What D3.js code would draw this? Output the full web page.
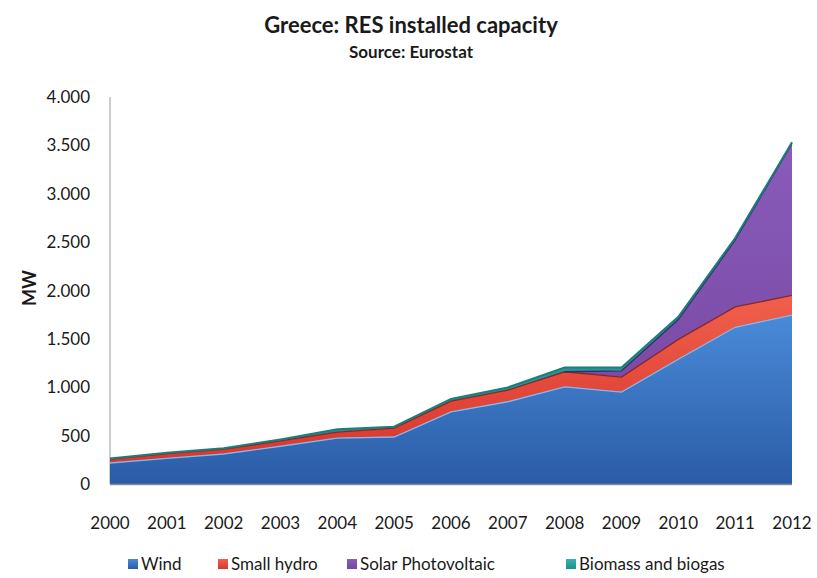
<!DOCTYPE html>
<html>
<head>
<meta charset="utf-8">
<script src="https://cdn.jsdelivr.net/npm/d3@7"></script>
<style>
  body { margin: 0; background: #fff; }
  text { font-family: Lato, "Open Sans", sans-serif; fill: #1a1a1a; }
</style>
</head>
<body>
<svg id="chart" width="817" height="578"></svg>
<script>
// values (MW)
var years = [2000, 2001, 2002, 2003, 2004, 2005, 2006, 2007, 2008, 2009, 2010, 2011, 2012];
var wind    = [217, 265, 310, 390, 475, 486, 745, 850, 1003, 950, 1290, 1620, 1745];
var hydro   = [41, 50, 50, 55, 62, 92, 112, 120, 157, 155, 205, 210, 205];
var solar   = [0, 0, 0, 0, 0, 0, 0, 0, 0, 65, 205, 690, 1570];
var biomass = [5, 8, 9, 16, 28, 14, 22, 28, 45, 35, 28, 22, 12];
var seriesNames = ["Wind", "Small hydro", "Solar Photovoltaic", "Biomass and biogas"];
var yTicks = [0, 500, 1000, 1500, 2000, 2500, 3000, 3500, 4000];

var svg = d3.select("#chart");
var x = d3.scaleLinear().domain([2000, 2012]).range([110, 792]);
var y = d3.scaleLinear().domain([0, 4000]).range([484, 97]);

var rows = years.map(function (yr, i) {
  return { year: yr, "Wind": wind[i], "Small hydro": hydro[i],
           "Solar Photovoltaic": solar[i], "Biomass and biogas": biomass[i] };
});
var stacked = d3.stack().keys(seriesNames)(rows);

// fills: [top colour, bottom colour, edge colour]
var looks = [
  ["#4a8ad8", "#2a5ca6", "#7fb8f2"],
  ["#f0604c", "#d8362c", "#8e2323"],
  ["#8a5cba", "#7446a0", "#3f2a66"],
  ["#35b3b0", "#1e8f8d", "#1a7f7c"]
];

var defs = svg.append("defs");
looks.forEach(function (c, i) {
  var g = defs.append("linearGradient").attr("id", "g" + i)
    .attr("x1", 0).attr("x2", 0).attr("y1", 0).attr("y2", 1);
  g.append("stop").attr("offset", "0%").attr("stop-color", c[0]);
  g.append("stop").attr("offset", "100%").attr("stop-color", c[1]);
});

// axis line
svg.append("line").attr("x1", 110).attr("x2", 110).attr("y1", y(4000)).attr("y2", y(0))
  .attr("stroke", "#9a9a9a").attr("stroke-width", 1);

var area = d3.area()
  .x(function (d) { return x(d.data.year); })
  .y0(function (d) { return y(d[0]); })
  .y1(function (d) { return y(d[1]); });
var topLine = d3.line()
  .x(function (d) { return x(d.data.year); })
  .y(function (d) { return y(d[1]); });

stacked.forEach(function (layer, i) {
  svg.append("path").datum(layer).attr("d", area).attr("fill", "url(#g" + i + ")");
});
stacked.forEach(function (layer, i) {
  // solar edge only where it starts to show
  svg.append("path").datum(i == 2 ? layer.filter(function (d, k) { return k >= 8; }) : layer)
    .attr("d", topLine).attr("fill", "none")
    .attr("stroke", looks[i][2]).attr("stroke-width", i == 3 ? 2 : 1.3);
});

svg.append("line").attr("x1", 110).attr("x2", 792).attr("y1", y(0) + 0.5).attr("y2", y(0) + 0.5)
  .attr("stroke", "#8a8a8a").attr("stroke-width", 1.5);

// y tick labels
svg.selectAll(".yt").data(yTicks).enter().append("text")
  .attr("x", 90).attr("y", function (d) { return y(d) + 6; })
  .attr("text-anchor", "end").attr("font-size", 17)
  .text(function (d) { return d3.format(",")(d).replace(",", "."); });

// x tick labels
svg.selectAll(".xt").data(years).enter().append("text")
  .attr("x", function (d) { return x(d); }).attr("y", 529)
  .attr("text-anchor", "middle").attr("font-size", 17)
  .text(function (d) { return d; });

// titles
svg.append("text").attr("x", 411).attr("y", 33).attr("text-anchor", "middle")
  .attr("font-size", 22).attr("font-weight", "bold").text("Greece: RES installed capacity");
svg.append("text").attr("x", 411).attr("y", 58).attr("text-anchor", "middle")
  .attr("font-size", 17).attr("font-weight", "bold").text("Source: Eurostat");
svg.append("text").attr("transform", "translate(36,288) rotate(-90)")
  .attr("text-anchor", "middle").attr("font-size", 18).attr("font-weight", "bold").text("MW");

// legend
var legX = [128, 218, 347, 566];
seriesNames.forEach(function (name, i) {
  svg.append("rect").attr("x", legX[i]).attr("y", 559).attr("width", 10).attr("height", 10)
    .attr("fill", "url(#g" + i + ")");
  svg.append("text").attr("x", legX[i] + 13).attr("y", 570).attr("font-size", 17).text(name);
});
</script>
</body>
</html>
